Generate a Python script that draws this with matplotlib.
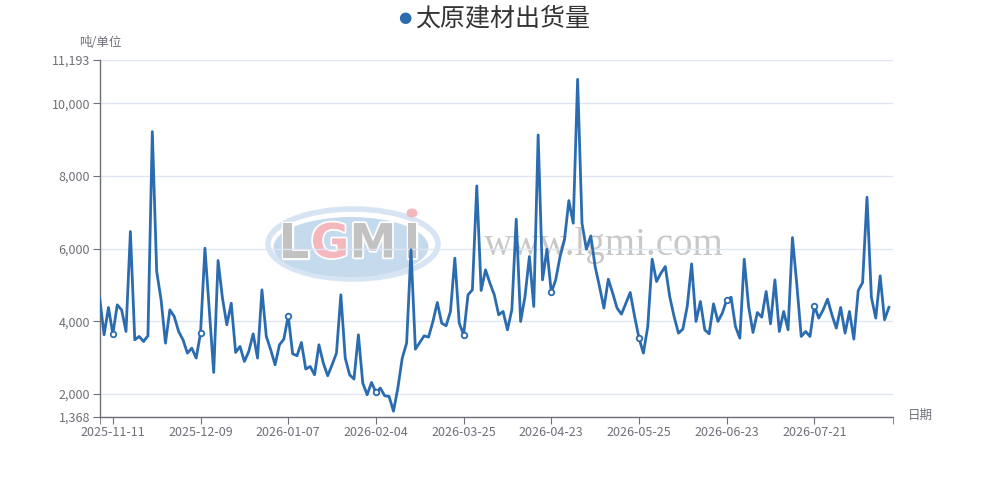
import numpy as np
import matplotlib
matplotlib.use('Agg')
import matplotlib.pyplot as plt
from matplotlib.patches import Ellipse
import matplotlib.patheffects as pe

plt.rcParams['font.family'] = ['Noto Sans CJK SC', 'DejaVu Sans']

series_name = '太原建材出货量'
y_unit = '吨/单位'
x_name = '日期'
tick_labels = ['2025-11-11', '2025-12-09', '2026-01-07', '2026-02-04', '2026-03-25',
               '2026-04-23', '2026-05-25', '2026-06-23', '2026-07-21']
tick_idx = [3, 23, 43, 63, 83, 103, 123, 143, 163]
values = [
    4633, 3624, 4376, 3642, 4449, 4310, 3715, 6468, 3486, 3578,
    3440, 3596, 9220, 5367, 4587, 3394, 4312, 4128, 3715, 3486,
    3119, 3257, 2982, 3670, 6009, 4300, 2587, 5670, 4633, 3899,
    4495, 3138, 3303, 2890, 3165, 3651, 2982, 4862, 3578, 3211,
    2798, 3349, 3505, 4147, 3101, 3046, 3413, 2679, 2752, 2523,
    3349, 2844, 2495, 2798, 3119, 4725, 2982, 2523, 2404, 3624,
    2294, 1972, 2312, 2037, 2156, 1945, 1927, 1520, 2156, 2982,
    3394, 5963, 3229, 3413, 3596, 3560, 3991, 4514, 3945, 3871,
    4266, 5734, 3945, 3624, 4725, 4862, 7725, 4844, 5413, 5046,
    4725, 4174, 4266, 3761, 4312, 6807, 3991, 4679, 5780, 4404,
    9128, 5137, 5981, 4789, 5137, 5780, 6238, 7321, 6697, 10660,
    6697, 5981, 6348, 5500, 4950, 4358, 5156, 4770, 4358, 4193,
    4495, 4789, 4128, 3532, 3119, 3853, 5706, 5092, 5321, 5505,
    4679, 4128, 3670, 3780, 4404, 5578, 3991, 4541, 3761, 3651,
    4477, 3991, 4220, 4587, 4660, 3853, 3532, 5706, 4404, 3688,
    4238, 4110, 4816, 3927, 5137, 3715, 4266, 3761, 6302, 5000,
    3578, 3715, 3578, 4422, 4083, 4312, 4605, 4174, 3807, 4376,
    3670, 4266, 3505, 4844, 5064, 7413, 4660, 4083, 5248, 4037,
    4380, np.nan,
]
y_min, y_max = 1368, 11193
y_ticks = [1368, 2000, 4000, 6000, 8000, 10000, 11193]

LINE = '#2b6cb0'
AXC = '#6e7079'
GRID = '#e0e6f1'

W, H = 992, 487
fig = plt.figure(figsize=(W / 100, H / 100), dpi=100)

# watermark layer (pixel coordinates)
bg = fig.add_axes([0, 0, 1, 1], zorder=0)
bg.set_xlim(0, W)
bg.set_ylim(H, 0)
bg.axis('off')
bg.add_patch(Ellipse((353, 244), 170, 70, facecolor='none', edgecolor='#d6e4f3', lw=4))
bg.add_patch(Ellipse((351, 247), 155, 60, facecolor='#c6daee', edgecolor='none'))
outline = [pe.withStroke(linewidth=2.5, foreground='white')]
for ch, cx, col in [('L', 294, '#c2c2c2'), ('G', 330, '#f4b7be'), ('M', 373, '#c2c2c2'), ('I', 412, '#c2c2c2')]:
    bg.text(cx, 245, ch, fontsize=34, fontweight='bold', color=col, ha='center', va='center',
            family='DejaVu Sans', path_effects=outline)
bg.add_patch(Ellipse((412, 213), 11, 9, facecolor='#f4b7be', edgecolor='none'))
bg.text(604, 246, 'www.lgmi.com', fontsize=28, color='#c8c8c8', ha='center', va='center',
        family='Liberation Serif')

ax = fig.add_axes([99.7 / W, 1 - 416.7 / H, (893.3 - 99.7) / W, (416.7 - 60) / H], zorder=1)
ax.patch.set_alpha(0)
x = np.arange(len(values))
vals = np.array(values, dtype=float)
ax.plot(x, vals, color=LINE, lw=2.0, zorder=3, solid_joinstyle='round')
ax.plot(tick_idx, vals[tick_idx], 'o', mfc='white', mec=LINE, ms=4, mew=1.3, zorder=4)

ax.set_xlim(0, len(values) - 1)
ax.set_ylim(y_min, y_max)
ax.set_yticks(y_ticks)
ax.set_yticklabels([f'{v:,}' for v in y_ticks])
ax.set_xticks(tick_idx)
ax.set_xticklabels(tick_labels)
ax.set_xticks([0, len(values) - 1], minor=True)
ax.grid(axis='y', color=GRID, lw=1, zorder=0)
for s in ['top', 'right']:
    ax.spines[s].set_visible(False)
for s in ['left', 'bottom']:
    ax.spines[s].set_color(AXC)
    ax.spines[s].set_linewidth(1)
ax.tick_params(axis='y', length=5, color=AXC, labelcolor=AXC, labelsize=9, pad=2)
ax.tick_params(axis='x', which='both', length=5, color=AXC, labelcolor=AXC, labelsize=9, pad=2)

fig.text(100 / W, 1 - 43 / H, y_unit, ha='center', va='center', fontsize=9, color=AXC)
fig.text(908 / W, 1 - 415 / H, x_name, ha='left', va='center', fontsize=9, color=AXC)

# legend-like header
fig.text(405 / W, 1 - 18 / H, '●', ha='center', va='center', fontsize=11, color=LINE,
         family='DejaVu Sans')
fig.text(415 / W, 1 - 18 / H, series_name, ha='left', va='center', fontsize=18, color='#333333')

fig.savefig('out.png', dpi=100)
